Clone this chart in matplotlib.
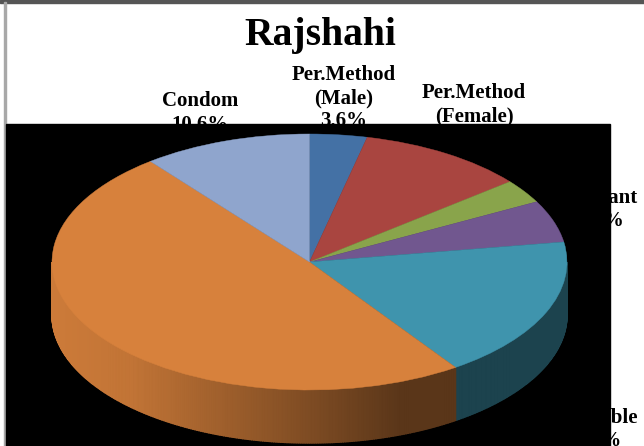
#!/usr/bin/env python3
"""Rajshahi contraceptive-method share, tilted 3D pie with a masked block."""

import numpy as np
import matplotlib

matplotlib.use("Agg")
import matplotlib.pyplot as plt
from matplotlib.patches import Polygon, Rectangle, Wedge
from matplotlib.transforms import Affine2D

TITLE = "Rajshahi"
SLICE_NAMES = ["Per.Method (Male)", "Per.Method (Female)", "Green", "Implant", "Injectable", "Pill", "Condom"]
SLICE_VALUES = [3.6, 10.6, 3.0, 5.3, 17.9, 49.0, 10.6]
SLICE_COLORS = ["#4471a5", "#a94540", "#89a44b", "#71578f", "#3f94ad", "#d7813c", "#8fa5cd"]
LABEL_TEXTS = ["Condom\n10.6%", "Per.Method\n(Male)\n3.6%", "Per.Method\n(Female)\n10.6%", "Implant\n5.3%", "Injectable\n17.9%"]

CX, CY = 309.5, 262.0
RX, RY = 257.5, 128.0
DEPTH = 53.0

plt.rcParams["font.family"] = ["Liberation Serif", "DejaVu Serif"]

fig = plt.figure(figsize=(6.44, 4.46), dpi=100)
ax = fig.add_axes([0, 0, 1, 1])
ax.set_xlim(0, 644)
ax.set_ylim(446, 0)
ax.axis("off")

# frame of the slide, then labels, then the black block that covers them
ax.add_patch(Rectangle((0, 0), 644, 2.5, color="#555555", zorder=1))
ax.add_patch(Rectangle((4.5, 2), 2, 444, color="#a8a8a8", zorder=1))

ax.text(320, 36, TITLE, ha="center", va="center", fontsize=28.5, fontweight="bold", zorder=2)
label_xy = [(200, 113), (344, 98), (474, 116), (601, 209), (593, 430)]
for txt, (x, y) in zip(LABEL_TEXTS, label_xy):
    ax.text(x, y, txt, ha="center", va="center", fontsize=15, fontweight="bold", linespacing=1.2, zorder=2)

ax.add_patch(Rectangle((6.5, 124), 603.5, 322, color="black", zorder=3))

# clockwise from 12 o'clock, in percent
edges = np.cumsum([0] + SLICE_VALUES) / 100 * 360


def rim_x(deg):
    return CX + RX * np.sin(np.radians(deg))


def rim_y(deg):
    return CY - RY * np.cos(np.radians(deg))


def wall_color(i, x):
    base = np.array(matplotlib.colors.to_rgb(SLICE_COLORS[i]))
    if SLICE_NAMES[i] == "Pill":
        # bright on the left, darkest towards the seam with the teal slice
        pos = np.array([52, 130, 280, 400, 456])
        fac = np.array([0.95, 0.9, 0.64, 0.42, 0.42])
        return base * np.interp(x, pos, fac)
    return base * 0.45


# side wall, only the part of the rim that faces the viewer
for i in range(len(SLICE_VALUES)):
    a0 = max(edges[i], 90)
    a1 = min(edges[i + 1], 270)
    if a1 <= a0:
        continue
    steps = np.linspace(a0, a1, int(a1 - a0) * 2 + 2)
    for s0, s1 in zip(steps[:-1], steps[1:]):
        xs = rim_x(np.array([s0, s1, s1, s0]))
        ys = rim_y(np.array([s0, s1, s1, s0])) + np.array([0, 0, DEPTH, DEPTH])
        col = wall_color(i, xs.mean())
        ax.add_patch(Polygon(np.column_stack([xs, ys]), closed=True, facecolor=col, edgecolor=col, lw=1.0, zorder=4))

# top face: unit-circle wedges squashed into the ellipse
squash = Affine2D().scale(RX, -RY).translate(CX, CY) + ax.transData
for i, col in enumerate(SLICE_COLORS):
    # Wedge angles run counter-clockwise from east
    theta1 = 90 - edges[i + 1]
    theta2 = 90 - edges[i]
    ax.add_patch(Wedge((0, 0), 1, theta1, theta2, facecolor=col, edgecolor=col, lw=0.3, transform=squash, zorder=5))

fig.savefig("out.png", dpi=100)
